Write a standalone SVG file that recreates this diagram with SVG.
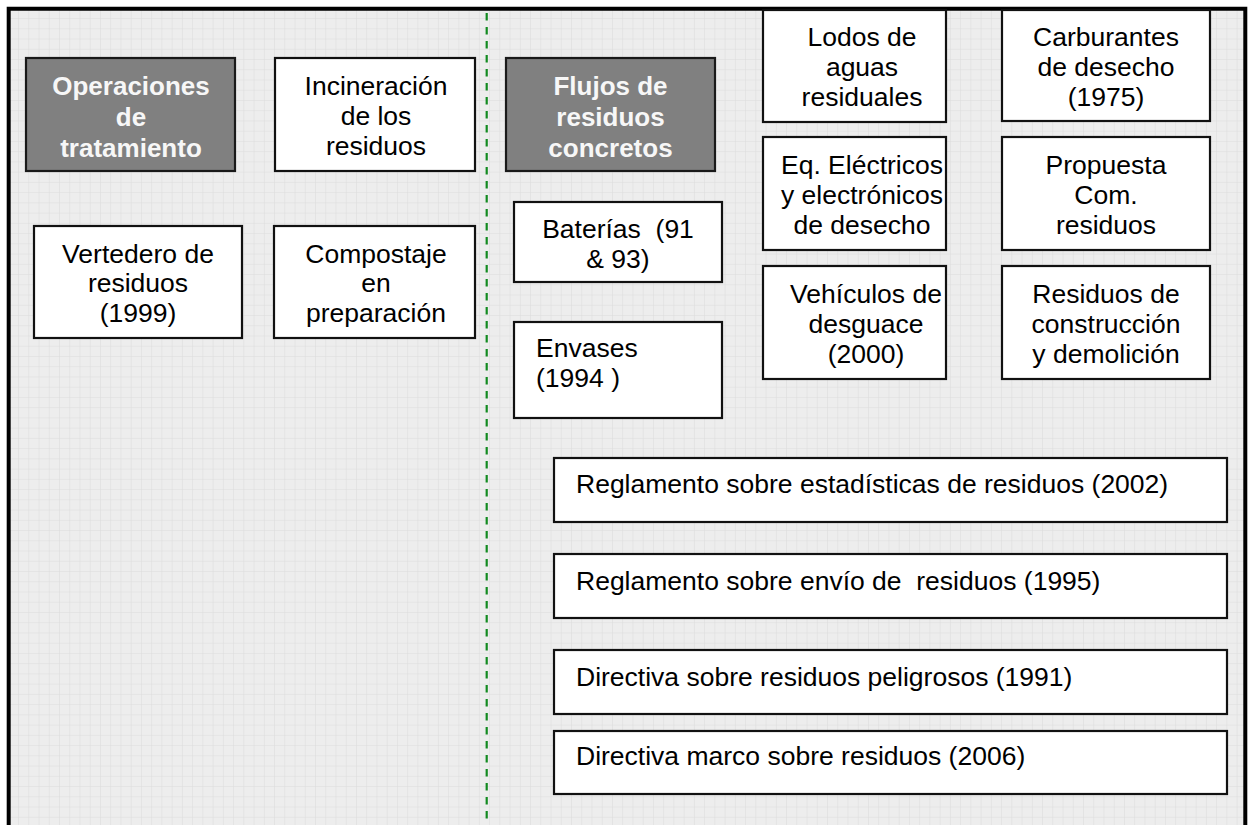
<svg xmlns="http://www.w3.org/2000/svg" width="1251" height="825" viewBox="0 0 1251 825">
<style>
  .box { fill: #ffffff; stroke: #111111; stroke-width: 2.2; }
  .hdr { fill: #808080; stroke: #1a1a1a; stroke-width: 2.2; }
  .t { font-family: "Liberation Sans", Arial, sans-serif; font-size: 26.5px; fill: #000000; white-space: pre; }
  .c { text-anchor: middle; }
  .b { font-weight: bold; font-size: 26px; fill: #f7f7f7; }
</style>
<defs>
  <pattern id="grid" x="8.76" y="8.76" width="10.24" height="10.24" patternUnits="userSpaceOnUse">
    <rect width="10.24" height="10.24" fill="#ededed"/>
    <path d="M10.24 0 V10.24 M0 10.24 H10.24" fill="none" stroke="#dcdcdc" stroke-width="1"/>
  </pattern>
</defs>
<rect width="1251" height="825" fill="#ffffff"/>
<rect x="9" y="9" width="1236" height="830" fill="url(#grid)"/>
<path d="M8.7 830 V8.7 H1245.3 V830" fill="none" stroke="#000000" stroke-width="4"/>

<g id="divider">
  <line x1="486.7" y1="13" x2="486.7" y2="825" stroke="#128a20" stroke-width="2.2" stroke-dasharray="7.5 6.5"/>
</g>

<g id="operaciones">
  <rect class="hdr" x="26" y="58" width="209" height="113"/>
  <text class="t c b" x="131" y="95">Operaciones</text>
  <text class="t c b" x="131" y="126">de</text>
  <text class="t c b" x="131" y="157">tratamiento</text>
</g>
<g id="incineracion">
  <rect class="box" x="275" y="58" width="200" height="113"/>
  <text class="t c" x="376" y="95">Incineración</text>
  <text class="t c" x="376" y="125">de los</text>
  <text class="t c" x="376" y="155">residuos</text>
</g>
<g id="flujos">
  <rect class="hdr" x="506" y="58" width="209" height="113"/>
  <text class="t c b" x="610.5" y="95">Flujos de</text>
  <text class="t c b" x="610.5" y="126">residuos</text>
  <text class="t c b" x="610.5" y="157">concretos</text>
</g>
<g id="lodos">
  <rect class="box" x="763" y="10" width="183" height="112"/>
  <text class="t c" x="862" y="46">Lodos de</text>
  <text class="t c" x="862" y="76">aguas</text>
  <text class="t c" x="862" y="106">residuales</text>
</g>
<g id="carburantes">
  <rect class="box" x="1002" y="10" width="208" height="111"/>
  <text class="t c" x="1106" y="46">Carburantes</text>
  <text class="t c" x="1106" y="76">de desecho</text>
  <text class="t c" x="1106" y="106">(1975)</text>
</g>
<g id="electricos">
  <rect class="box" x="763" y="137" width="183" height="113"/>
  <text class="t c" x="862" y="174">Eq. Eléctricos</text>
  <text class="t c" x="862" y="204">y electrónicos</text>
  <text class="t c" x="862" y="234">de desecho</text>
</g>
<g id="propuesta">
  <rect class="box" x="1002" y="137" width="208" height="113"/>
  <text class="t c" x="1106" y="174">Propuesta</text>
  <text class="t c" x="1106" y="204">Com.</text>
  <text class="t c" x="1106" y="234">residuos</text>
</g>
<g id="vehiculos">
  <rect class="box" x="763" y="266" width="183" height="113"/>
  <text class="t c" x="866" y="303">Vehículos de</text>
  <text class="t c" x="866" y="333">desguace</text>
  <text class="t c" x="866" y="363">(2000)</text>
</g>
<g id="construccion">
  <rect class="box" x="1002" y="266" width="208" height="113"/>
  <text class="t c" x="1106" y="303">Residuos de</text>
  <text class="t c" x="1106" y="333">construcción</text>
  <text class="t c" x="1106" y="363">y demolición</text>
</g>
<g id="vertedero">
  <rect class="box" x="34" y="226" width="208" height="112"/>
  <text class="t c" x="138" y="263">Vertedero de</text>
  <text class="t c" x="138" y="292">residuos</text>
  <text class="t c" x="138" y="322">(1999)</text>
</g>
<g id="compostaje">
  <rect class="box" x="274" y="226" width="201" height="112"/>
  <text class="t c" x="376" y="263">Compostaje</text>
  <text class="t c" x="376" y="292">en</text>
  <text class="t c" x="376" y="322">preparación</text>
</g>
<g id="baterias">
  <rect class="box" x="514" y="202" width="208" height="80"/>
  <text class="t c" x="618" y="238">Baterías  (91</text>
  <text class="t c" x="618" y="268">&amp; 93)</text>
</g>
<g id="envases">
  <rect class="box" x="514" y="322" width="208" height="96"/>
  <text class="t" x="536" y="357">Envases</text>
  <text class="t" x="536" y="387">(1994 )</text>
</g>
<g id="estadisticas">
  <rect class="box" x="554" y="458" width="673" height="64"/>
  <text class="t" x="576" y="493">Reglamento sobre estadísticas de residuos (2002)</text>
</g>
<g id="envio">
  <rect class="box" x="554" y="554" width="673" height="64"/>
  <text class="t" x="576" y="590">Reglamento sobre envío de  residuos (1995)</text>
</g>
<g id="peligrosos">
  <rect class="box" x="554" y="650" width="673" height="64"/>
  <text class="t" x="576" y="686">Directiva sobre residuos peligrosos (1991)</text>
</g>
<g id="marco">
  <rect class="box" x="554" y="731" width="673" height="63"/>
  <text class="t" x="576" y="765">Directiva marco sobre residuos (2006)</text>
</g>
</svg>
